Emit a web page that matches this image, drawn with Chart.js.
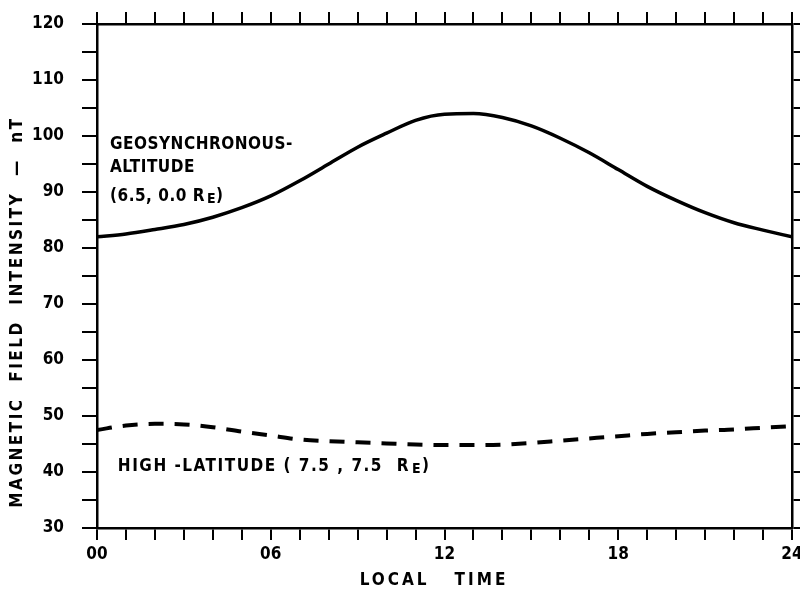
<!DOCTYPE html>
<html>
<head>
<meta charset="utf-8">
<script src="https://cdn.jsdelivr.net/npm/chart.js"></script>
<style>
    html, body { margin: 0; padding: 0; background: #fff; }
    #wrap { width: 800px; height: 592px; }
</style>
</head>
<body>
<div id="wrap"><canvas id="fieldChart" width="800" height="592"></canvas></div>
<script>
    // local time in hours
    var hours = [0, 1, 2, 3, 4, 5, 6, 7, 8, 9, 10, 11, 12, 13, 14, 15, 16, 17, 18, 19, 20, 21, 22, 23, 24];
    // field at geosynchronous altitude (6.5, 0.0 Re), nT
    var geoField = [82, 82.5, 83.3, 84.2, 85.5, 87.2, 89.3, 92, 95, 98, 100.5, 102.8, 103.9, 104, 103.3, 101.8, 99.6, 97, 94, 91, 88.5, 86.3, 84.5, 83.2, 82];
    // field at high latitude (7.5, 7.5 Re), nT
    var highLatField = [47.5, 48.3, 48.6, 48.5, 48, 47.2, 46.5, 45.8, 45.5, 45.3, 45.1, 44.9, 44.8, 44.8, 44.9, 45.2, 45.6, 46, 46.4, 46.8, 47.1, 47.4, 47.6, 47.9, 48.2];
    var hourLabels = { 0: '00', 6: '06', 12: '12', 18: '18', 24: '24' };
    var fieldLabels = [30, 40, 50, 60, 70, 80, 90, 100, 110, 120];

    var FONT = '"DejaVu Sans Condensed", "DejaVu Sans", sans-serif';

    function points(ys) {
        return hours.map(function (h, i) { return { x: h, y: ys[i] }; });
    }

    // fixed axis thickness, and no extra room for overhanging labels
    function fixSize(prop, size) {
        return function (scale) {
            scale[prop] = size;
            scale.paddingLeft = scale.paddingRight = scale.paddingTop = scale.paddingBottom = 0;
        };
    }

    // curve names and axis titles
    var labelPlugin = {
        id: 'curveLabels',
        afterDraw: function (chart) {
            var ctx = chart.ctx;
            var xs = chart.scales.x, ys = chart.scales.y;
            ctx.save();
            ctx.fillStyle = '#000';
            ctx.textBaseline = 'middle';
            ctx.textAlign = 'left';

            function re(text, h, v, size) {
                var x = xs.getPixelForValue(h), y = ys.getPixelForValue(v);
                ctx.font = 'bold ' + size + 'px ' + FONT;
                ctx.fillText(text, x, y);
                x += ctx.measureText(text).width;
                ctx.fillText('R', x, y);
                x += ctx.measureText('R').width + 2;
                ctx.font = 'bold ' + (size - 3) + 'px ' + FONT;
                ctx.fillText('E', x, y + 2);
                x += ctx.measureText('E').width;
                ctx.font = 'bold ' + size + 'px ' + FONT;
                ctx.fillText(')', x, y);
            }

            ctx.font = 'bold 17px ' + FONT;
            ctx.letterSpacing = '0.5px';
            ctx.fillText('GEOSYNCHRONOUS-', xs.getPixelForValue(0.45), ys.getPixelForValue(98.4));
            ctx.fillText('ALTITUDE', xs.getPixelForValue(0.45), ys.getPixelForValue(94.3));
            re('(6.5, 0.0 ', 0.45, 89.1, 17);
            ctx.letterSpacing = '1.5px';
            re('HIGH -LATITUDE ( 7.5 , 7.5  ', 0.72, 40.9, 17);

            // axis titles
            ctx.font = 'bold 17px ' + FONT;
            ctx.letterSpacing = '3px';
            ctx.textAlign = 'center';
            ctx.fillText('LOCAL   TIME', 434, 581);

            ctx.translate(18, 312);
            ctx.rotate(-Math.PI / 2);
            ctx.letterSpacing = '2.5px';
            ctx.fillText('MAGNETIC  FIELD  INTENSITY  —  nT', 0, 0);
            ctx.restore();
        }
    };

    var axisGrid = function (len) {
        return { drawOnChartArea: false, drawTicks: true, tickLength: len, color: '#000', lineWidth: 2 };
    };
    var axisBorder = { display: true, color: '#000', width: 2.5 };

    new Chart(document.getElementById('fieldChart'), {
        type: 'line',
        data: {
            datasets: [{
                label: 'Geosynchronous altitude',
                data: points(geoField),
                borderColor: '#000',
                borderWidth: 3.5,
                pointRadius: 0,
                cubicInterpolationMode: 'monotone',
                fill: false
            }, {
                label: 'High latitude',
                data: points(highLatField),
                borderColor: '#000',
                borderWidth: 4,
                borderDash: [15, 11],
                pointRadius: 0,
                cubicInterpolationMode: 'monotone',
                fill: false
            }]
        },
        options: {
            responsive: false,
            animation: false,
            layout: { padding: 0 },
            plugins: { legend: { display: false }, tooltip: { enabled: false } },
            scales: {
                x: {
                    type: 'linear', position: 'bottom', min: 0, max: 24,
                    afterFit: fixSize('height', 64),
                    grid: axisGrid(12),
                    border: axisBorder,
                    ticks: {
                        stepSize: 1, autoSkip: false, maxRotation: 0, padding: 4,
                        color: '#000', font: { family: FONT, size: 17, weight: 'bold' },
                        callback: function (v) { return hourLabels[v] !== undefined ? hourLabels[v] : ''; }
                    }
                },
                x2: {
                    type: 'linear', position: 'top', min: 0, max: 24,
                    afterFit: fixSize('height', 24),
                    grid: axisGrid(12),
                    border: axisBorder,
                    ticks: { stepSize: 1, autoSkip: false, maxRotation: 0, font: { size: 1 }, callback: function () { return ''; } }
                },
                y: {
                    type: 'linear', position: 'left', min: 30, max: 120,
                    afterFit: fixSize('width', 97),
                    grid: axisGrid(15),
                    border: axisBorder,
                    ticks: {
                        stepSize: 5, autoSkip: false, padding: 18,
                        color: '#000', font: { family: FONT, size: 17, weight: 'bold' },
                        callback: function (v) { return fieldLabels.indexOf(v) >= 0 ? String(v) : ''; }
                    }
                },
                y2: {
                    type: 'linear', position: 'right', min: 30, max: 120,
                    afterFit: fixSize('width', 8),
                    grid: axisGrid(8),
                    border: axisBorder,
                    ticks: { stepSize: 5, autoSkip: false, padding: 0, font: { size: 1 }, callback: function () { return ''; } }
                }
            }
        },
        plugins: [labelPlugin]
    });
</script>
</body>
</html>
